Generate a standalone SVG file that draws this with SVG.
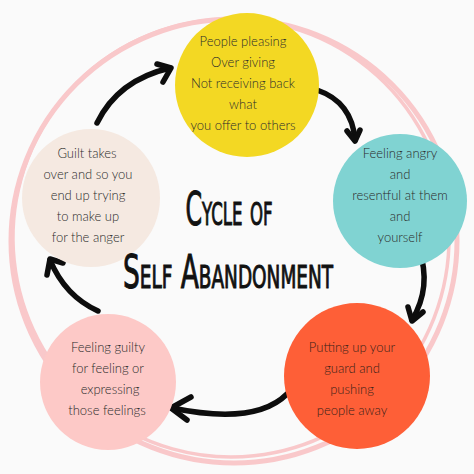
<svg xmlns="http://www.w3.org/2000/svg" width="474" height="474" viewBox="0 0 474 474">
  <defs>
    <style>
      .ring { fill: none; stroke: #f9c8ca; }
      .lbl { font-family: Lato, "Open Sans", "Noto Sans", sans-serif; font-weight: 300; font-size: 13px; fill: #2b2b2b; text-anchor: middle; }
      .title { font-family: "Liberation Sans Narrow", "DejaVu Sans Condensed", "Liberation Sans", sans-serif; font-variant: small-caps; font-size: 46px; fill: #111; stroke: #111; stroke-width: 1; text-anchor: middle; }
      .arr { fill: none; stroke: #0d0d0d; stroke-width: 5.5; stroke-linecap: round; stroke-linejoin: round; }
    </style>
  </defs>
  <rect width="474" height="474" fill="#fafafa"/>

  <g id="rings">
    <ellipse class="ring" cx="234" cy="241" rx="223" ry="222" stroke-width="5"/>
    <ellipse class="ring" cx="231" cy="238" rx="218" ry="219" stroke-width="3.5" transform="rotate(-6 231 238)"/>
  </g>

  <g id="connectors">
    <path class="arr" d="M97,123 Q118,80 170,68"/>
    <path class="arr" d="M157,64 L171,68 L163,82"/>

    <path class="arr" d="M317,90 Q352,102 355,140"/>
    <path class="arr" d="M347,131 L355,141 L360,130"/>

    <path class="arr" d="M419,249 Q432,287 412,320"/>
    <path class="arr" d="M408,307 L412,321 L423,312"/>

    <path class="arr" d="M287,394 C265,416 225,419 172,408"/>
    <path class="arr" d="M191,397 L171,408 L187,420"/>

    <path class="arr" d="M98,311 Q65,296 50,260"/>
    <path class="arr" d="M47,275 L50,259 L63,263"/>
  </g>

  <g id="node-people-pleasing">
    <circle cx="247" cy="85" r="72" fill="#f3d823"/>
    <text class="lbl"><tspan x="243" y="46">People pleasing</tspan><tspan x="243" y="67">Over giving</tspan><tspan x="243" y="88">Not receiving back</tspan><tspan x="243" y="109">what</tspan><tspan x="243" y="130">you offer to others</tspan></text>
  </g>

  <g id="node-feeling-angry">
    <circle cx="400" cy="201" r="67" fill="#80d3d2"/>
    <text class="lbl"><tspan x="400" y="158">Feeling angry</tspan><tspan x="400" y="179">and</tspan><tspan x="400" y="200">resentful at them</tspan><tspan x="400" y="221">and</tspan><tspan x="400" y="242">yourself</tspan></text>
  </g>

  <g id="node-putting-up-guard">
    <circle cx="357" cy="376" r="73" fill="#fe5f37"/>
    <text class="lbl" style="fill:#3a2218"><tspan x="352" y="352">Putting up your</tspan><tspan x="352" y="373">guard and</tspan><tspan x="352" y="394">pushing</tspan><tspan x="352" y="415">people away</tspan></text>
  </g>

  <g id="node-feeling-guilty">
    <circle cx="108" cy="382" r="68" fill="#fdc9c7"/>
    <text class="lbl"><tspan x="108" y="352">Feeling guilty</tspan><tspan x="108" y="373">for feeling or</tspan><tspan x="110" y="394">expressing</tspan><tspan x="107" y="415">those feelings</tspan></text>
  </g>

  <g id="node-guilt-takes-over">
    <circle cx="91" cy="198" r="69" fill="#f5e9e1"/>
    <text class="lbl"><tspan x="87" y="158">Guilt takes</tspan><tspan x="88" y="179">over and so you</tspan><tspan x="88" y="200">end up trying</tspan><tspan x="88" y="221">to make up</tspan><tspan x="88" y="242">for the anger</tspan></text>
  </g>

  <g id="title">
    <text class="title" x="229" y="225" textLength="87" lengthAdjust="spacingAndGlyphs">Cycle of</text>
    <text class="title" x="228" y="288" textLength="210" lengthAdjust="spacingAndGlyphs">Self Abandonment</text>
  </g>
</svg>
